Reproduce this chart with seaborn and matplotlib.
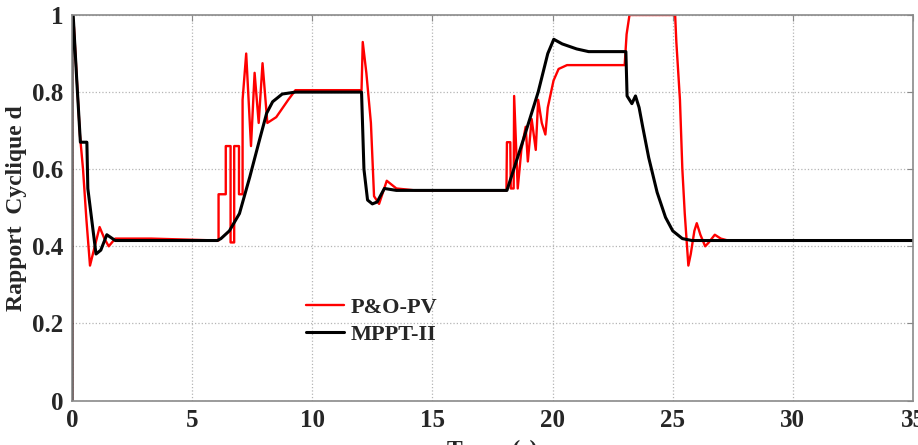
import matplotlib
matplotlib.use("Agg")
import matplotlib.pyplot as plt
import seaborn as sns
import pandas as pd
from matplotlib.ticker import FuncFormatter

# duty cycle traces (time in s, duty cycle d)
po_t = [0.0, 0.0, 0.08, 0.33, 0.46, 0.6, 0.75, 0.95, 1.15, 1.35, 1.53, 1.8, 3.3,
        6.1, 6.1, 6.4, 6.4, 6.6, 6.6, 6.75, 6.75, 6.95, 6.95, 7.1, 7.1, 7.25,
        7.45, 7.6, 7.77, 7.93, 8.13, 8.5, 9.0, 9.3, 12.05, 12.1, 12.25, 12.44,
        12.57, 12.78, 13.1, 13.5, 14.3, 18.08, 18.1, 18.24, 18.26, 18.38, 18.4,
        18.55, 18.7, 18.88, 18.97, 19.13, 19.3, 19.4, 19.55, 19.7, 19.8, 20.04,
        20.25, 20.6, 23.0, 23.08, 23.2, 25.1, 25.15, 25.3, 25.4, 25.5, 25.65,
        25.75, 25.9, 26.0, 26.15, 26.35, 26.5, 26.75, 27.0, 27.3, 35.0]
po_d = [0.0, 0.97, 0.97, 0.69, 0.6, 0.47, 0.35, 0.4, 0.45, 0.42, 0.4, 0.42, 0.42,
        0.415, 0.535, 0.535, 0.66, 0.66, 0.41, 0.41, 0.66, 0.66, 0.535, 0.535,
        0.78, 0.9, 0.66, 0.85, 0.72, 0.875, 0.72, 0.735, 0.78, 0.805, 0.805,
        0.93, 0.85, 0.72, 0.53, 0.51, 0.57, 0.55, 0.545, 0.545, 0.67, 0.67, 0.55,
        0.55, 0.79, 0.55, 0.65, 0.71, 0.62, 0.73, 0.65, 0.78, 0.72, 0.69, 0.76,
        0.83, 0.86, 0.87, 0.87, 0.95, 1.0, 1.0, 0.93, 0.78, 0.6, 0.485, 0.35,
        0.38, 0.44, 0.46, 0.43, 0.4, 0.41, 0.43, 0.42, 0.415, 0.415]

mppt_t = [0.0, 0.0, 0.05, 0.2, 0.35, 0.62, 0.66, 1.0, 1.2, 1.45, 1.8, 6.05, 6.2,
          6.55, 6.97, 7.4, 7.8, 8.1, 8.35, 8.75, 9.3, 12.05, 12.15, 12.3, 12.5,
          12.7, 13.0, 13.5, 18.1, 18.8, 19.4, 19.8, 20.05, 20.4, 21.0, 21.5,
          23.05, 23.1, 23.3, 23.45, 23.6, 23.75, 24.0, 24.35, 24.7, 25.0, 25.4,
          25.8, 35.0]
mppt_d = [0.0, 1.0, 1.0, 0.83, 0.67, 0.67, 0.55, 0.38, 0.39, 0.43, 0.415, 0.415,
          0.42, 0.44, 0.485, 0.58, 0.675, 0.745, 0.775, 0.795, 0.8, 0.8, 0.6,
          0.52, 0.51, 0.515, 0.55, 0.545, 0.545, 0.68, 0.8, 0.9, 0.937, 0.925,
          0.912, 0.905, 0.905, 0.79, 0.77, 0.79, 0.76, 0.71, 0.63, 0.54, 0.475,
          0.44, 0.42, 0.415, 0.415]

series_names = ["P&O-PV", "MPPT-II"]
series_colors = ["#ff0000", "#000000"]

df = pd.concat([
    pd.DataFrame({"t": po_t, "d": po_d, "serie": series_names[0]}),
    pd.DataFrame({"t": mppt_t, "d": mppt_d, "serie": series_names[1]}),
], ignore_index=True)

sns.set_style("white")
plt.rcParams["font.family"] = ["Liberation Serif", "DejaVu Serif"]
plt.rcParams["font.weight"] = "bold"

fig, ax = plt.subplots(figsize=(9.18, 4.45), dpi=100)
fig.subplots_adjust(left=0.0784, right=0.9946, top=0.9663, bottom=0.1)

sns.lineplot(data=df, x="t", y="d", hue="serie", hue_order=series_names,
             palette=series_colors, sort=False, estimator=None,
             ax=ax, legend=False)
ax.lines[0].set_linewidth(1.7)
ax.lines[1].set_linewidth(2.2)

ax.set_xlim(0, 35)
ax.set_ylim(0, 1)
ax.set_xticks([0, 5, 10, 15, 20, 25, 30, 35])
ax.set_yticks([0, 0.2, 0.4, 0.6, 0.8, 1.0])
ax.yaxis.set_major_formatter(FuncFormatter(lambda v, p: f"{v:g}"))
ax.grid(True, linestyle=":", color="#b5b5b5", linewidth=0.9)
ax.tick_params(direction="in", length=4, color="#888888", labelsize=18,
               top=True, right=True, pad=6)
for lab in ax.get_xticklabels() + ax.get_yticklabels():
    lab.set_fontweight("bold")
for sp in ax.spines.values():
    sp.set_color("#8a8a8a")
    sp.set_linewidth(1.2)

ax.set_xlabel("Temps(s)", fontsize=17, fontweight="bold", labelpad=6)
ax.set_ylabel("Rapport  Cyclique d", fontsize=17, fontweight="bold", labelpad=4)

ax.legend(ax.lines[:2], series_names, loc="upper left",
          bbox_to_anchor=(0.255, 0.32), frameon=False, handlelength=1.7,
          handletextpad=0.3, labelspacing=0.3,
          prop={"size": 16, "weight": "bold"})

plt.savefig("out.png", dpi=100)
plt.close(fig)
